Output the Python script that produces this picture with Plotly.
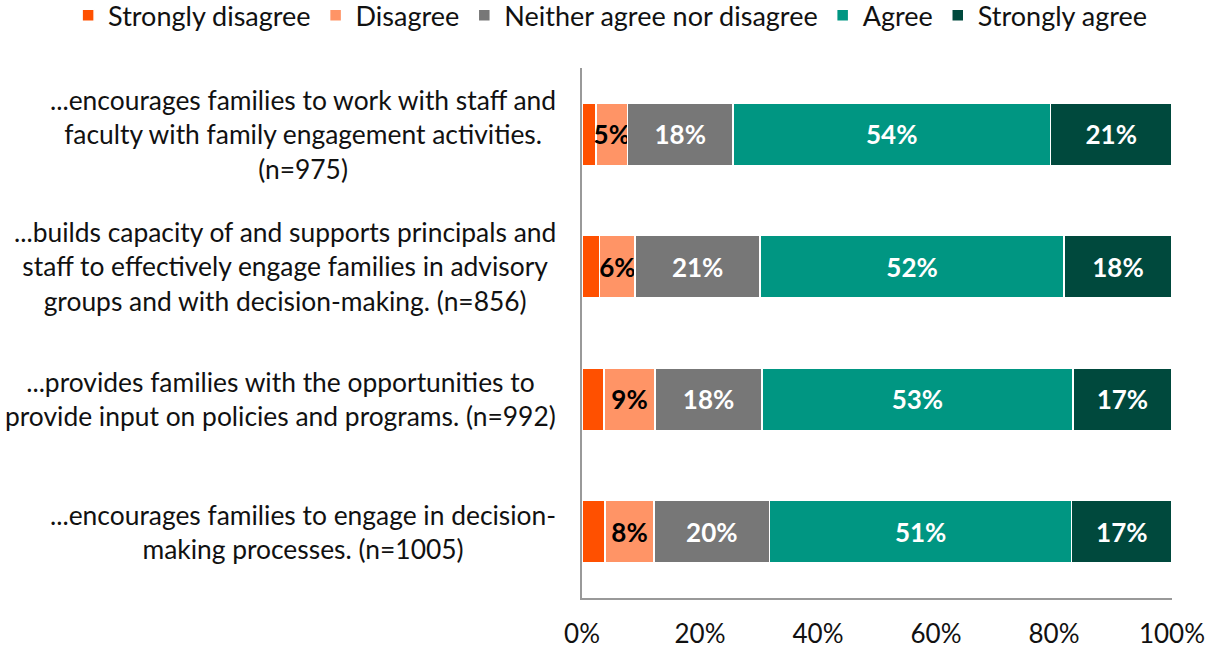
import plotly.graph_objects as go

categories = [
    "...encourages families to work with staff and<br>faculty with family engagement activities.<br>(n=975)",
    "...builds capacity of and supports principals and<br>staff to effectively engage families in advisory<br>groups and with decision-making. (n=856)",
    "...provides families with the opportunities to<br>provide input on policies and programs. (n=992)",
    "...encourages families to engage in decision-<br>making processes. (n=1005)",
]
strongly_disagree = [2.4, 3.0, 3.7, 3.9]
disagree = [5.3, 6.0, 8.7, 8.3]
neither = [17.9, 21.2, 18.1, 19.6]
agree = [53.8, 51.5, 52.7, 51.2]
strongly_agree = [20.6, 18.3, 16.8, 17.0]
tick_vals = [0, 20, 40, 60, 80, 100]
tick_text = ["0%", "20%", "40%", "60%", "80%", "100%"]

series = [
    ("Strongly disagree", strongly_disagree, "#FF5000", None),
    ("Disagree", disagree, "#FF9466", "#000000"),
    ("Neither agree nor disagree", neither, "#777777", "#FFFFFF"),
    ("Agree", agree, "#009682", "#FFFFFF"),
    ("Strongly agree", strongly_agree, "#00493D", "#FFFFFF"),
]

FONT = "Lato, 'Open Sans', sans-serif"
fig = go.Figure()
for name, vals, color, tcolor in series:
    if tcolor:
        kw = dict(
            text=[f"{round(v)}%" for v in vals],
            textposition="inside",
            insidetextanchor="middle",
            constraintext="none",
            textangle=0,
            textfont=dict(family=FONT, size=26, color=tcolor, weight="bold"),
        )
    else:
        kw = dict(textposition="none")
    fig.add_trace(go.Bar(
        name=name, y=list(range(len(categories))), x=vals, orientation="h",
        marker=dict(color=color, line=dict(color="#FFFFFF", width=1.5)),
        width=0.47, hoverinfo="x", cliponaxis=False, **kw,
    ))

for i, c in enumerate(categories):
    fig.add_annotation(
        x=-0.040, xref="paper", y=i, yref="y", text=c, showarrow=False,
        xanchor="right", yanchor="middle", align="center",
        font=dict(family=FONT, size=26.4, color="#111111"),
    )

fig.update_layout(
    barmode="stack",
    width=1215, height=649,
    margin=dict(l=582, r=43, t=68, b=51, autoexpand=False),
    plot_bgcolor="white", paper_bgcolor="white",
    font=dict(family=FONT, size=26, color="#111111"),
    showlegend=True,
    legend=dict(
        orientation="h", xref="paper", yref="paper",
        x=-0.871, y=1.145, xanchor="left", yanchor="top",
        font=dict(family=FONT, size=27, color="#111111"),
        itemwidth=30, traceorder="normal",
    ),
    xaxis=dict(
        range=[0, 100], tickvals=tick_vals, ticktext=tick_text,
        showgrid=False, zeroline=False, showline=True, linecolor="#999999",
        linewidth=2, ticks="", ticklabelstandoff=12,
        tickfont=dict(family=FONT, size=26, color="#111111"),
    ),
    yaxis=dict(
        range=[3.5, -0.5], showticklabels=False, showgrid=False,
        zeroline=False, showline=True, linecolor="#999999", linewidth=2,
        ticks="",
    ),
    bargap=0.5,
)

fig.write_html("out.html", config={"displayModeBar": False},
               post_script="document.body.style.margin='0';")
